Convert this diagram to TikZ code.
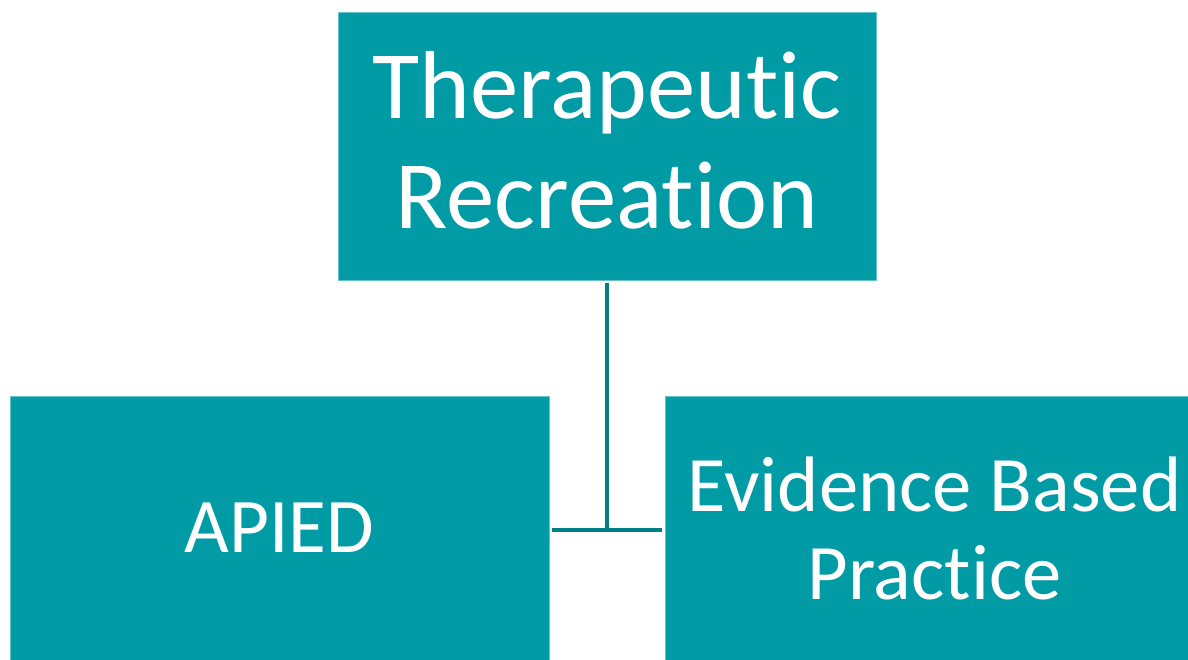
\documentclass[tikz,border=0pt]{standalone}
\usepackage{fontspec}
\setmainfont{Carlito}[Ligatures=NoCommon]
\usepackage{xcolor}
\usepackage{tikz}
\definecolor{tealbox}{HTML}{009BA5}
\definecolor{tealline}{HTML}{007F86}
\begin{document}
\begin{tikzpicture}[x=0.75pt,y=-0.75pt]
\tikzstyle{box}=[fill=tealbox,draw=tealbox!60!white,line width=0.6pt,text=white,align=center,inner sep=0pt]
\tikzstyle{boxtext}=[text=white,align=center,inner sep=0pt]
\tikzstyle{link}=[draw=tealline,line width=2.4pt]
\useasboundingbox (0,0) rectangle (1188,660);
\node [box,minimum width=403.5pt,minimum height=201pt,
  label={[boxtext,font=\fontsize{72.5}{82.5}\selectfont,yshift=4.5pt]center:Therapeutic\\Recreation}] (tr) at (607,146) {};
\node [box,minimum width=404.25pt,minimum height=198pt,font=\fontsize{58}{70}\selectfont] (apied) at (279.5,528) {APIED};
\node [box,minimum width=392.25pt,minimum height=198pt,
  label={[boxtext,font=\fontsize{59}{66}\selectfont,xshift=6pt]center:Evidence Based\\Practice}] (ebp) at (926.5,528) {};
\coordinate (join) at (607,530);
\draw [link,shorten <=2pt] (tr.south) -- (join);
\draw [link,shorten <=2pt,shorten >=2pt] (apied.east |- join) -- (ebp.west |- join);
\end{tikzpicture}
\end{document}
